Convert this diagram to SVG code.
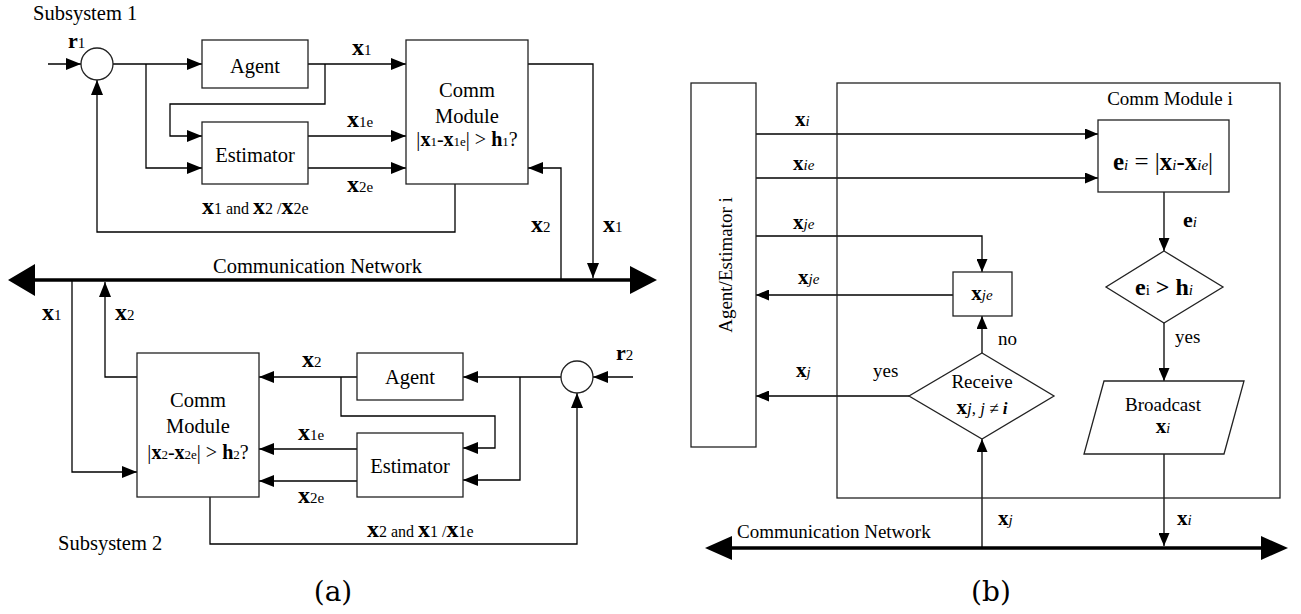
<svg xmlns="http://www.w3.org/2000/svg" width="1301" height="614" viewBox="0 0 1301 614">
<style>
.ln{fill:none;stroke:#000;stroke-width:1.3}
.bx{fill:#fff;stroke:#222;stroke-width:1.3}
.bus{fill:none;stroke:#000;stroke-width:3.5}
.hd{fill:#000;stroke:none}
text{font-family:"Liberation Serif","Times New Roman",serif;fill:#000}
.m{font-size:20.5px}
.r{font-size:19px}
.b{font-weight:bold}
.i{font-style:italic}
.c{text-anchor:middle}
.cap{font-family:"DejaVu Serif","Liberation Serif",serif;font-size:28px}
</style>
<defs>
<marker id="ah" markerUnits="userSpaceOnUse" markerWidth="15" markerHeight="12" refX="15" refY="6" orient="auto"><path d="M0,0 L15,6 L0,12 z" fill="#000"/></marker>
<marker id="ah2" markerUnits="userSpaceOnUse" markerWidth="13" markerHeight="11" refX="13" refY="5.5" orient="auto"><path d="M0,0 L13,5.5 L0,11 z" fill="#000"/></marker>
</defs>

<g id="connectors">
  <!-- (a) bus -->
  <path class="bus" d="M30,280 H635"/>
  <polygon class="hd" points="8,280 35,264 35,296"/>
  <polygon class="hd" points="657,280 630,266 630,294"/>
  <!-- subsystem 1 -->
  <path class="ln" d="M48,64 H81" marker-end="url(#ah)"/>
  <path class="ln" d="M113,64 H202" marker-end="url(#ah)"/>
  <path class="ln" d="M146,64 V168 H202" marker-end="url(#ah)"/>
  <path class="ln" d="M308,64 H406" marker-end="url(#ah)"/>
  <path class="ln" d="M325,64 V104 H170 V136 H202" marker-end="url(#ah)"/>
  <path class="ln" d="M308,136 H406" marker-end="url(#ah)"/>
  <path class="ln" d="M308,168 H406" marker-end="url(#ah)"/>
  <path class="ln" d="M528,64 H593 V278" marker-end="url(#ah)"/>
  <path class="ln" d="M561,280 V168 H528" marker-end="url(#ah)"/>
  <path class="ln" d="M455,184 V232 H97 V80" marker-end="url(#ah)"/>
  <!-- subsystem 2 -->
  <path class="ln" d="M72,280 V472 H137" marker-end="url(#ah)"/>
  <path class="ln" d="M137,377 H105 V282" marker-end="url(#ah)"/>
  <path class="ln" d="M357,377 H259" marker-end="url(#ah)"/>
  <path class="ln" d="M341,377 V416 H495 V448 H463" marker-end="url(#ah)"/>
  <path class="ln" d="M357,449 H259" marker-end="url(#ah)"/>
  <path class="ln" d="M357,481 H259" marker-end="url(#ah)"/>
  <path class="ln" d="M561,377 H463" marker-end="url(#ah)"/>
  <path class="ln" d="M520,377 V480 H463" marker-end="url(#ah)"/>
  <path class="ln" d="M633,377 H593" marker-end="url(#ah)"/>
  <path class="ln" d="M210,497 V544 H577 V393" marker-end="url(#ah)"/>
  <!-- (b) bus -->
  <path class="bus" d="M728,548 H1265"/>
  <polygon class="hd" points="705,548 732,536 732,560"/>
  <polygon class="hd" points="1288,548 1261,536 1261,560"/>
  <!-- (b) flows -->
  <path class="ln" d="M756,134 H1098" marker-end="url(#ah2)"/>
  <path class="ln" d="M756,178 H1098" marker-end="url(#ah2)"/>
  <path class="ln" d="M756,236 H982 V272" marker-end="url(#ah2)"/>
  <path class="ln" d="M953,295 H756" marker-end="url(#ah2)"/>
  <path class="ln" d="M1164,192 V251" marker-end="url(#ah2)"/>
  <path class="ln" d="M1164,323 V381" marker-end="url(#ah2)"/>
  <path class="ln" d="M1164,454 V546" marker-end="url(#ah2)"/>
  <path class="ln" d="M982,548 V439" marker-end="url(#ah2)"/>
  <path class="ln" d="M982,353 V316" marker-end="url(#ah2)"/>
  <path class="ln" d="M909,396 H756" marker-end="url(#ah2)"/>
</g>

<!-- ===== (a) ===== -->
<text class="m" x="33" y="20">Subsystem 1</text>
<g id="sum1"><circle class="bx" cx="97" cy="64" r="16"/></g>
<text x="68" y="48"><tspan class="b" font-size="22">r</tspan><tspan font-size="15">1</tspan></text>

<g id="agent1"><rect class="bx" x="202" y="40" width="106" height="48"/><text class="m c" x="255" y="73">Agent</text></g>
<g id="estimator1"><rect class="bx" x="202" y="122" width="106" height="62"/><text class="m c" x="255" y="162">Estimator</text></g>
<g id="comm1">
  <rect class="bx" x="406" y="40" width="122" height="144"/>
  <text class="m c" x="467" y="97">Comm</text>
  <text class="m c" x="467" y="123">Module</text>
  <text class="c" x="467" y="146" font-size="20">|<tspan class="b">x</tspan><tspan font-size="13">1</tspan>-<tspan class="b">x</tspan><tspan font-size="13">1e</tspan>| &gt; <tspan class="b">h</tspan><tspan font-size="13">1</tspan>?</text>
</g>

<text x="352" y="55"><tspan class="b" font-size="24">x</tspan><tspan font-size="15">1</tspan></text>
<text x="347" y="127"><tspan class="b" font-size="24">x</tspan><tspan font-size="15">1e</tspan></text>
<text x="347" y="192"><tspan class="b" font-size="24">x</tspan><tspan font-size="15">2e</tspan></text>
<text x="202" y="214"><tspan class="b" font-size="24">x</tspan><tspan font-size="16">1 and </tspan><tspan class="b" font-size="24">x</tspan><tspan font-size="16">2 /</tspan><tspan class="b" font-size="24">x</tspan><tspan font-size="16">2e</tspan></text>
<text x="531" y="232"><tspan class="b" font-size="24">x</tspan><tspan font-size="15">2</tspan></text>
<text x="603" y="232"><tspan class="b" font-size="24">x</tspan><tspan font-size="15">1</tspan></text>
<text class="m" x="213" y="273">Communication Network</text>

<text x="42" y="320"><tspan class="b" font-size="24">x</tspan><tspan font-size="15">1</tspan></text>
<text x="115" y="320"><tspan class="b" font-size="24">x</tspan><tspan font-size="15">2</tspan></text>

<g id="comm2">
  <rect class="bx" x="137" y="353" width="122" height="144"/>
  <text class="m c" x="198" y="407">Comm</text>
  <text class="m c" x="198" y="433">Module</text>
  <text class="c" x="198" y="459" font-size="20">|<tspan class="b">x</tspan><tspan font-size="13">2</tspan>-<tspan class="b">x</tspan><tspan font-size="13">2e</tspan>| &gt; <tspan class="b">h</tspan><tspan font-size="13">2</tspan>?</text>
</g>
<g id="agent2"><rect class="bx" x="357" y="353" width="106" height="47"/><text class="m c" x="410" y="384">Agent</text></g>
<g id="estimator2"><rect class="bx" x="357" y="433" width="106" height="64"/><text class="m c" x="410" y="473">Estimator</text></g>
<g id="sum2"><circle class="bx" cx="577" cy="377" r="16"/></g>
<text x="616" y="360"><tspan class="b" font-size="22">r</tspan><tspan font-size="15">2</tspan></text>

<text x="302" y="367"><tspan class="b" font-size="24">x</tspan><tspan font-size="15">2</tspan></text>
<text x="298" y="440"><tspan class="b" font-size="24">x</tspan><tspan font-size="15">1e</tspan></text>
<text x="298" y="503"><tspan class="b" font-size="24">x</tspan><tspan font-size="15">2e</tspan></text>
<text x="367" y="537"><tspan class="b" font-size="24">x</tspan><tspan font-size="16">2 and </tspan><tspan class="b" font-size="24">x</tspan><tspan font-size="16">1 /</tspan><tspan class="b" font-size="24">x</tspan><tspan font-size="16">1e</tspan></text>
<text class="m" x="58" y="550">Subsystem 2</text>
<text class="cap c" x="333" y="601">(a)</text>

<!-- ===== (b) ===== -->
<g id="agentEstimator">
  <rect class="bx" x="691" y="83" width="65" height="364"/>
  <text class="r c" transform="translate(732,265) rotate(-90)">Agent/Estimator i</text>
</g>
<g id="commModule">
  <rect class="bx" x="837" y="83" width="443" height="415" fill="none" style="fill:none"/>
  <text class="r c" x="1170" y="105">Comm Module i</text>
</g>
<g id="errorBox">
  <rect class="bx" x="1098" y="120" width="131" height="72"/>
  <text class="c" x="1163" y="170" font-size="25"><tspan class="b">e</tspan><tspan class="i" font-size="15">i</tspan> = |<tspan class="b">x</tspan><tspan class="i" font-size="15">i</tspan>-<tspan class="b">x</tspan><tspan class="i" font-size="15">ie</tspan>|</text>
</g>
<g id="threshold">
  <polygon class="bx" points="1164,251 1223,287 1164,323 1106,287"/>
  <text class="c" x="1164" y="295" font-size="24"><tspan class="b">e</tspan><tspan font-size="15">i</tspan> <tspan class="b">&gt;</tspan> <tspan class="b">h</tspan><tspan class="i" font-size="15">i</tspan></text>
</g>
<g id="broadcast">
  <polygon class="bx" points="1104,381 1244,381 1224,454 1084,454"/>
  <text class="r c" x="1163" y="411">Broadcast</text>
  <text class="c" x="1163" y="433"><tspan class="b" font-size="21">x</tspan><tspan class="i" font-size="14">i</tspan></text>
</g>
<g id="xjeBox">
  <rect class="bx" x="953" y="272" width="59" height="44"/>
  <text class="c" x="982" y="300"><tspan class="b" font-size="21">x</tspan><tspan class="i" font-size="15">je</tspan></text>
</g>
<g id="receive">
  <polygon class="bx" points="982,353 1054,396 982,439 909,396"/>
  <text class="r c" x="982" y="388">Receive</text>
  <text class="c" x="982" y="414" font-size="17"><tspan class="b" font-size="21">x</tspan><tspan class="i">j</tspan>, <tspan class="i">j</tspan> ≠ <tspan class="i b">i</tspan></text>
</g>

<text x="795" y="126"><tspan class="b" font-size="21">x</tspan><tspan class="i" font-size="15">i</tspan></text>
<text x="793" y="170"><tspan class="b" font-size="21">x</tspan><tspan class="i" font-size="15">ie</tspan></text>
<text x="793" y="229"><tspan class="b" font-size="21">x</tspan><tspan class="i" font-size="15">je</tspan></text>
<text x="798" y="284"><tspan class="b" font-size="21">x</tspan><tspan class="i" font-size="15">je</tspan></text>
<text x="1183" y="227"><tspan class="b" font-size="22">e</tspan><tspan class="i" font-size="15">i</tspan></text>
<text class="r" x="1175" y="343">yes</text>
<text class="r" x="998" y="345">no</text>
<text class="r" x="873" y="377">yes</text>
<text x="796" y="377"><tspan class="b" font-size="21">x</tspan><tspan class="i" font-size="15">j</tspan></text>
<text x="998" y="525"><tspan class="b" font-size="21">x</tspan><tspan class="i" font-size="15">j</tspan></text>
<text x="1177" y="525"><tspan class="b" font-size="21">x</tspan><tspan class="i" font-size="15">i</tspan></text>
<text class="r" x="737" y="538">Communication Network</text>
<text class="cap c" x="991" y="601">(b)</text>
</svg>
